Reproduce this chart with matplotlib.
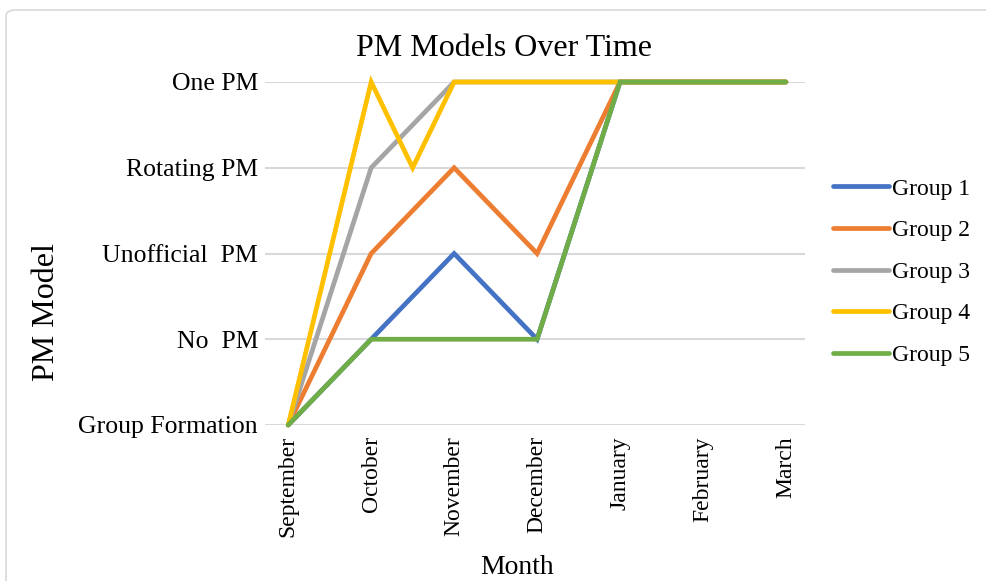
import matplotlib
matplotlib.use("Agg")
import matplotlib.pyplot as plt
from matplotlib.patches import FancyBboxPatch

months = ["September", "October", "November", "December", "January", "February", "March"]
levels = ["Group Formation", "No  PM", "Unofficial  PM", "Rotating PM", "One PM"]

x_std = [0, 1, 2, 3, 4, 5, 6]
group1 = [0, 1, 2, 1, 4, 4, 4]
group2 = [0, 2, 3, 2, 4, 4, 4]
group3 = [0, 3, 4, 4, 4, 4, 4]
x_g4 = [0, 1, 1.5, 2, 3, 4, 5, 6]
group4 = [0, 4, 3, 4, 4, 4, 4, 4]
group5 = [0, 1, 1, 1, 4, 4, 4]

series = [
    ("Group 1", x_std, group1, "#4472C4"),
    ("Group 2", x_std, group2, "#ED7D31"),
    ("Group 3", x_std, group3, "#A5A5A5"),
    ("Group 4", x_g4, group4, "#FFC000"),
    ("Group 5", x_std, group5, "#70AD47"),
]

plt.rcParams['font.family'] = ['Liberation Serif', 'DejaVu Serif']

W, H = 987, 581
fig = plt.figure(figsize=(W / 100, H / 100), dpi=100)
fig.patches.append(FancyBboxPatch((6 / W, -0.05), 1.2, 1 - 10 / H + 0.05,
                                  boxstyle="round,pad=0,rounding_size=0.01",
                                  transform=fig.transFigure, fill=False,
                                  edgecolor="#d9d9d9", linewidth=1.2))

ax = fig.add_axes([265 / W, 1 - 425 / H, (805 - 265) / W, (425 - 82) / H])
for name, xs, ys, c in series:
    ax.plot(xs, ys, color=c, linewidth=3.4, label=name, clip_on=False,
            solid_capstyle='round', solid_joinstyle='miter', zorder=3)

ax.set_xlim(-0.28, 6.23)
ax.set_ylim(0, 4)
ax.set_xticks(range(len(months)))
ax.set_xticklabels(months, rotation=90, fontsize=17)
ax.set_yticks(range(len(levels)))
ax.set_yticklabels(levels, fontsize=18.5)
ax.tick_params(axis='y', length=0, pad=5)
ax.tick_params(axis='x', length=0, pad=8)
ax.grid(axis='y', color="#d9d9d9", linewidth=1.5, zorder=0)
for s in ax.spines.values():
    s.set_visible(False)

fig.text(504 / W, 1 - 49 / H, "PM Models Over Time", fontsize=23, ha='center', va='center')
fig.text(517 / W, 1 - 567 / H, "Month", fontsize=20, ha='center', va='center')
fig.text(47 / W, 1 - 312 / H, "PM Model", fontsize=23, ha='center', va='center', rotation=90)

leg = ax.legend(loc='center left', bbox_to_anchor=(833 / W, 1 - 272 / H),
                bbox_transform=fig.transFigure, frameon=False, borderpad=0,
                borderaxespad=0, fontsize=17, handlelength=2.37,
                handletextpad=0.15, labelspacing=0.85)

fig.savefig("out.png", dpi=100)
